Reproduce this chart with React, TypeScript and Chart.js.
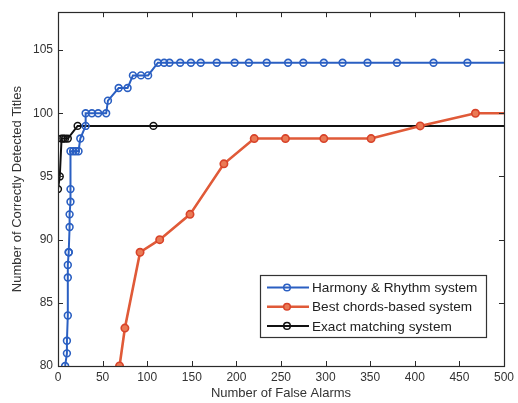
import React, { useEffect, useRef } from "react";
import { Chart, registerables } from "chart.js";
Chart.register(...registerables);

const xTicks = [0, 50, 100, 150, 200, 250, 300, 350, 400, 450, 500];
const yTicks = [80, 85, 90, 95, 100, 105];

const harmonyX = [8, 10, 10, 11, 11, 11, 12, 12, 13, 13, 14, 14, 14, 17, 20, 23, 25, 31, 31, 38, 45, 54, 56, 68, 78, 84, 93, 101, 112, 119, 125, 137, 149, 160, 178, 198, 214, 234, 258, 275, 298, 319, 347, 380, 421, 459, 500];
const harmonyY = [80, 81, 82, 84, 87, 88, 89, 89, 91, 92, 93, 94, 97, 97, 97, 97, 98, 99, 100, 100, 100, 100, 101, 102, 102, 103, 103, 103, 104, 104, 104, 104, 104, 104, 104, 104, 104, 104, 104, 104, 104, 104, 104, 104, 104, 104, 104];

const chordsX = [69, 75, 92, 114, 148, 186, 220, 255, 298, 351, 406, 468, 500];
const chordsY = [80, 83, 89, 90, 92, 96, 98, 98, 98, 98, 99, 100, 100];

const exactX = [0, 2, 4, 6, 8, 11, 22, 107, 500];
const exactY = [94, 95, 98, 98, 98, 98, 99, 99, 99];

const labels = ["Harmony & Rhythm system", "Best chords-based system", "Exact matching system"];

const BLUE = "#2a5fc2";
const RED = "#e05a38";
const BLACK = "#111111";

const pts = (xs: number[], ys: number[]) => xs.map((x, i) => ({ x, y: ys[i] }));
const hideLast = (n: number, r: number) => (ctx: any) => (ctx.dataIndex === n - 1 ? 0 : r);

const framePlugin = {
  id: "frame",
  afterDatasetsDraw(chart: any) {
    const { ctx, chartArea: a, scales } = chart;
    ctx.save();
    ctx.strokeStyle = "#2a2a2a";
    ctx.lineWidth = 1;
    ctx.beginPath();
    const tl = 5;
    for (const v of xTicks) {
      const px = Math.round(scales.x.getPixelForValue(v)) + 0.5;
      ctx.moveTo(px, a.bottom);
      ctx.lineTo(px, a.bottom - tl);
      ctx.moveTo(px, a.top);
      ctx.lineTo(px, a.top + tl);
    }
    for (const v of yTicks) {
      const py = Math.round(scales.y.getPixelForValue(v)) + 0.5;
      ctx.moveTo(a.left, py);
      ctx.lineTo(a.left + tl, py);
      ctx.moveTo(a.right, py);
      ctx.lineTo(a.right - tl, py);
    }
    ctx.stroke();
    ctx.lineWidth = 1.2;
    ctx.strokeRect(Math.round(a.left) + 0.5, Math.round(a.top) + 0.5, Math.round(a.right - a.left), Math.round(a.bottom - a.top));

    // legend
    const lx = 260, ly = 275, lw = 226, lh = 62;
    ctx.fillStyle = "#ffffff";
    ctx.fillRect(lx, ly, lw, lh);
    ctx.strokeStyle = "#333333";
    ctx.lineWidth = 1.2;
    ctx.strokeRect(lx + 0.5, ly + 0.5, lw, lh);
    ctx.font = "13.6px 'Liberation Sans', Arial, sans-serif";
    ctx.textBaseline = "middle";
    chart.data.datasets.forEach((ds: any, i: number) => {
      const cy = ly + 12.5 + i * 19.2;
      ctx.strokeStyle = ds.borderColor;
      ctx.lineWidth = ds.borderWidth;
      ctx.beginPath();
      ctx.moveTo(lx + 7, cy);
      ctx.lineTo(lx + 49, cy);
      ctx.stroke();
      ctx.beginPath();
      ctx.arc(lx + 27, cy, 3.3, 0, Math.PI * 2);
      ctx.fillStyle = ds.pointBackgroundColor;
      ctx.fill();
      ctx.lineWidth = 1.5;
      ctx.strokeStyle = ds.pointBorderColor;
      ctx.stroke();
      ctx.fillStyle = "#222222";
      ctx.fillText(ds.label, lx + 52, cy + 1);
    });
    ctx.restore();
  },
};

export default function App() {
  const ref = useRef<HTMLCanvasElement>(null);
  useEffect(() => {
    const font = { family: "'Liberation Sans', Arial, sans-serif", size: 12 };
    const titleFont = { family: "'Liberation Sans', Arial, sans-serif", size: 13 };
    const chart = new Chart(ref.current!, {
      type: "line",
      data: {
        datasets: [
          {
            label: labels[0],
            data: pts(harmonyX, harmonyY),
            borderColor: BLUE,
            borderWidth: 2,
            pointBackgroundColor: "rgba(255,255,255,0)",
            pointBorderColor: BLUE,
            pointBorderWidth: 1.6,
            pointRadius: hideLast(harmonyX.length, 3.4),
          },
          {
            label: labels[1],
            data: pts(chordsX, chordsY),
            borderColor: RED,
            borderWidth: 2.6,
            pointBackgroundColor: "#ea7a55",
            pointBorderColor: "#d8432a",
            pointBorderWidth: 1.6,
            pointRadius: hideLast(chordsX.length, 3.7),
          },
          {
            label: labels[2],
            data: pts(exactX, exactY),
            borderColor: BLACK,
            borderWidth: 2,
            pointBackgroundColor: "rgba(255,255,255,0)",
            pointBorderColor: BLACK,
            pointBorderWidth: 1.5,
            pointRadius: hideLast(exactX.length, 3.4),
          },
        ],
      },
      options: {
        animation: false,
        responsive: false,
        maintainAspectRatio: false,
        layout: { padding: { top: 12, right: 9, left: 0, bottom: 0 } },
        plugins: { legend: { display: false }, tooltip: { enabled: false } },
        scales: {
          x: {
            type: "linear",
            min: 0,
            max: 500,
            afterBuildTicks: (s: any) => { s.ticks = xTicks.map((v) => ({ value: v })); },
            afterFit: (s: any) => { s.height = 37; },
            grid: { display: false, drawTicks: false },
            border: { display: false },
            ticks: { color: "#333", font, padding: 4, maxRotation: 0, autoSkip: false },
            title: { display: true, text: "Number of False Alarms", color: "#333", font: titleFont, padding: { top: 0, bottom: 2 } },
          },
          y: {
            type: "linear",
            min: 80,
            max: 108,
            afterBuildTicks: (s: any) => { s.ticks = yTicks.map((v) => ({ value: v })); },
            afterFit: (s: any) => { s.width = 58; },
            grid: { display: false, drawTicks: false },
            border: { display: false },
            ticks: { color: "#333", font, padding: 5, autoSkip: false },
            title: { display: true, text: "Number of Correctly Detected Titles", color: "#333", font: titleFont, padding: { top: 10, bottom: 0 } },
          },
        },
      },
      plugins: [framePlugin],
    } as any);
    return () => chart.destroy();
  }, []);
  return (
    <div style={{ position: "absolute", left: 0, top: 0, width: 518, height: 403, background: "#fff" }}>
      <canvas ref={ref} width={518} height={403} style={{ width: 518, height: 403 }} />
    </div>
  );
}
